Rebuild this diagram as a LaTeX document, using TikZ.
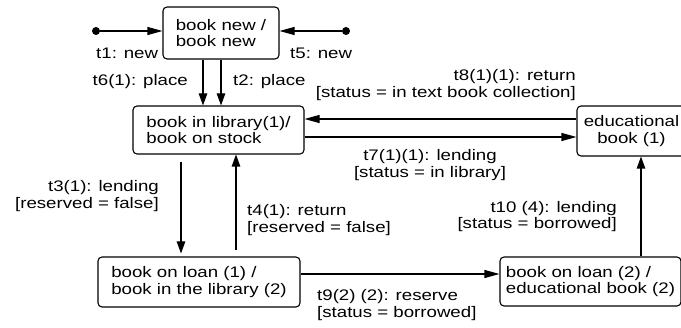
\documentclass[tikz,border=0pt]{standalone}
\usepackage{fontspec}
\setmainfont[FakeStretch=1.22]{Liberation Sans}
\usetikzlibrary{arrows.meta}

\begin{document}
\begin{tikzpicture}[x=1pt,y=-1pt,
    font=\fontsize{15.3}{16.5}\selectfont,
    etat/.style={draw,rounded corners=4pt,line width=1.1pt,inner sep=0pt},
    lbl/.style={inner sep=0pt},
    point/.style={circle,fill,inner sep=0pt,minimum size=8pt},
    fl/.style={line width=1.1pt,-{Triangle[length=12pt,width=8.5pt]}},
    flh/.style={line width=1.1pt,-{Triangle[length=15pt,width=8pt]}}]
  \useasboundingbox (0,0) rectangle (681,328);
  % états
  \node[etat,align=left,minimum width=116pt,minimum height=52pt] (neuf) at (221,33) {book new /\\book new};
  \node[etat,align=left,minimum width=171pt,minimum height=48pt] (stock) at (218.5,130) {book in library(1)/\\book on stock};
  \node[etat,align=center,minimum width=109pt,minimum height=50pt] (educ) at (631.5,131) {educational\\book (1)};
  \node[etat,align=left,minimum width=202pt,minimum height=50pt] (pret1) at (199,282) {book on loan (1) /\\book in the library (2)};
  \node[etat,align=left,minimum width=181pt,minimum height=49pt] (pret2) at (590.5,281.5) {book on loan (2) /\\educational book (2)};
  % états initiaux
  \node[point] (d1) at (96,31) {};
  \node[point] (d5) at (346,31) {};
  \draw[flh] (d1) -- (d1 -| neuf.west);
  \draw[flh] (d5) -- (d5 -| neuf.east);
  \node[lbl,anchor=west] (t1) at (96,53) {t1: new};
  \node[lbl,anchor=west] (t5) at (290,53) {t5: new};
  % placement
  \draw[fl] ([xshift=-18pt]neuf.south) -- ([xshift=-18pt]neuf.south |- stock.north);
  \draw[fl] (neuf.south) -- (neuf.south |- stock.north);
  \node[lbl,anchor=east] (t6) at (188,82) {t6(1): place};
  \node[lbl,anchor=west] (t2) at (233,82) {t2: place};
  % prêt et retour
  \draw[fl,shorten <=7pt,shorten >=3pt] ([xshift=-37.5pt]stock.south) -- ([xshift=-37.5pt]stock.south |- pret1.north);
  \draw[fl,shorten <=6pt] ([xshift=37pt]pret1.north) -- ([xshift=37pt]pret1.north |- stock.south);
  \node[lbl,anchor=east,align=right] (t3) at (159,196) {t3(1): lending\\{}[reserved = false]};
  \node[lbl,anchor=west,align=left] (t4) at (247,220) {t4(1): return\\{}[reserved = false]};
  % manuels
  \draw[flh] ([yshift=12pt]educ.west) -- ([yshift=12pt]educ.west -| stock.east);
  \draw[flh] ([yshift=-7pt]stock.east) -- ([yshift=-7pt]stock.east -| educ.west);
  \node[lbl,anchor=east,align=right] (t8) at (576,85) {t8(1)(1): return\\{}[status = in text book collection]};
  \node[lbl,align=center] (t7) at (430,165) {t7(1)(1): lending\\{}[status = in library]};
  % réservation
  \draw[flh] ([yshift=8pt]pret1.east) -- ([yshift=8pt]pret1.east -| pret2.west);
  \draw[fl] ([xshift=50.5pt]pret2.north) -- ([xshift=50.5pt]pret2.north |- educ.south);
  \node[lbl,anchor=west,align=left] (t9) at (317,305) {t9(2) (2): reserve\\{}[status = borrowed]};
  \node[lbl,anchor=east,align=right] (t10) at (617,216.5) {t10 (4): lending\\{}[status = borrowed]};
\end{tikzpicture}
\end{document}
